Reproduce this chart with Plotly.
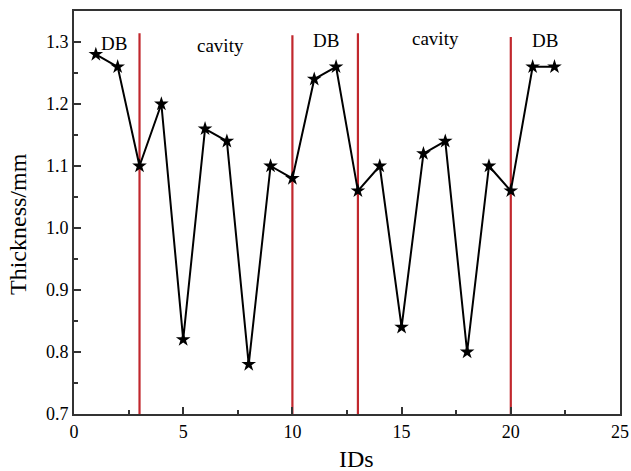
import plotly.graph_objects as go

ids = list(range(1, 23))
thickness = [1.28, 1.26, 1.10, 1.20, 0.82, 1.16, 1.14, 0.78, 1.10, 1.08, 1.24,
             1.26, 1.06, 1.10, 0.84, 1.12, 1.14, 0.80, 1.10, 1.06, 1.26, 1.26]
boundaries = [3, 10, 13, 20]
boundary_tops = [1.314, 1.311, 1.314, 1.308]
region_labels = ["DB", "cavity", "DB", "cavity", "DB"]
region_x = [1.83, 6.73, 11.54, 16.57, 21.57]
region_y = [1.297, 1.295, 1.303, 1.305, 1.303]

fig = go.Figure()
for b, top in zip(boundaries, boundary_tops):
    fig.add_trace(go.Scatter(x=[b, b], y=[0.7, top], mode="lines",
                             line=dict(color="#c1272d", width=2.2), showlegend=False,
                             hoverinfo="skip"))
fig.add_trace(go.Scatter(x=ids, y=thickness, mode="lines+markers",
                         line=dict(color="black", width=2),
                         marker=dict(symbol="star", size=11, color="black"),
                         showlegend=False))
for t, x, y in zip(region_labels, region_x, region_y):
    fig.add_annotation(x=x, y=y, text=t, showarrow=False,
                       font=dict(family="Liberation Serif", size=19, color="black"))

title_font = dict(family="Liberation Serif", size=24, color="black")
fig.add_annotation(xref="paper", yref="paper", x=(356 - 74) / 546, y=-(459 - 414) / 403,
                   xanchor="center", yanchor="middle",
                   text="IDs", showarrow=False, font=title_font)
fig.add_annotation(xref="paper", yref="paper", x=-(74 - 18) / 546, y=(414 - 224) / 403,
                   xanchor="center", yanchor="middle",
                   text="Thickness/mm", textangle=-90, showarrow=False, font=title_font)

axis_common = dict(showline=True, mirror=True, linecolor="#333", linewidth=2,
                   ticks="inside", ticklen=7, tickwidth=1.5, tickcolor="#333",
                   showgrid=False, zeroline=False, automargin=False,
                   tickfont=dict(family="Liberation Serif", size=18, color="black"))
fig.update_xaxes(range=[0, 25], tickvals=[0, 5, 10, 15, 20, 25],
                 minor=dict(ticks="inside", ticklen=4, tickwidth=1.5, tickcolor="#333", dtick=2.5, tick0=0),
                 **axis_common)
fig.update_yaxes(range=[0.7, 1.35], tickvals=[0.7, 0.8, 0.9, 1.0, 1.1, 1.2, 1.3],
                 ticktext=["0.7", "0.8", "0.9", "1.0", "1.1", "1.2", "1.3"],
                 minor=dict(ticks="inside", ticklen=4, tickwidth=1.5, tickcolor="#333", dtick=0.05, tick0=0.7),
                 **axis_common)
fig.update_layout(width=631, height=471, margin=dict(l=74, r=11, t=11, b=57),
                  plot_bgcolor="white", paper_bgcolor="white")
fig.write_html("out.html", config={"displayModeBar": False},
               post_script="document.body.style.margin='0';document.body.style.overflow='hidden';")
